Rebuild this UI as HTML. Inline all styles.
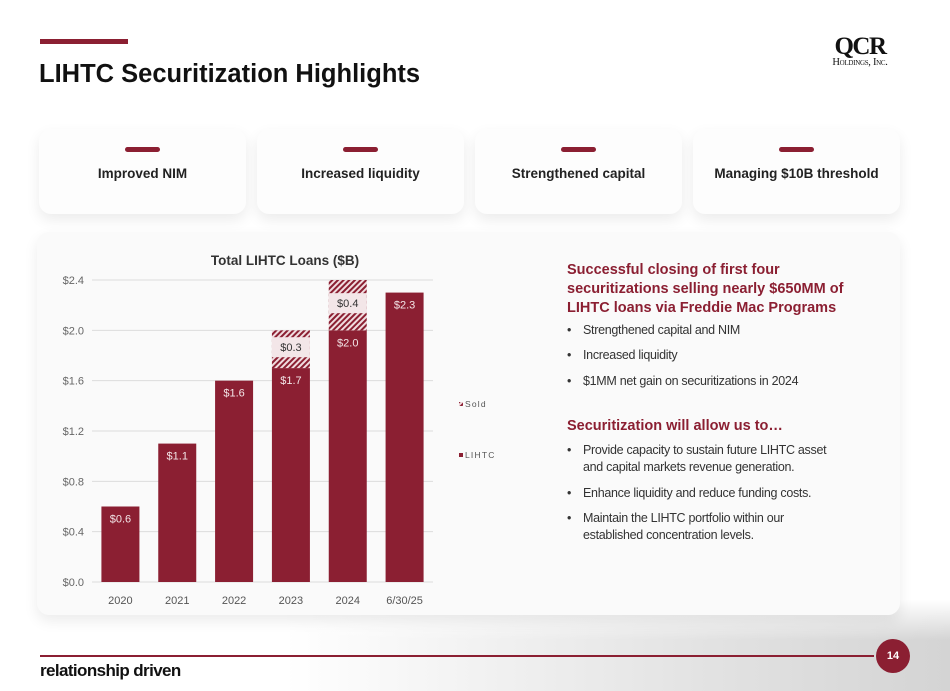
<!DOCTYPE html>
<html><head><meta charset="utf-8"><style>
body{margin:0;width:950px;height:691px;overflow:hidden;background:#fff;font-family:"Liberation Sans",Arial,sans-serif;position:relative}
.abs{position:absolute}
.card{position:absolute;top:129px;width:207px;height:85px;background:#fdfdfd;border-radius:12px;box-shadow:0 6px 14px rgba(0,0,0,0.08);text-align:center}
.card .dash{position:absolute;left:86px;top:18px;width:35px;height:5px;border-radius:3px;background:#8b1f32}
.card .t{position:absolute;left:0;right:0;top:37px;font-size:13.5px;font-weight:bold;color:#222}
.bul{position:absolute;left:567px;width:262px;padding-left:16px;font-size:12.5px;color:#333;line-height:17px;letter-spacing:-0.3px}
.bul:before{content:"•";position:absolute;left:0}
</style></head><body>
<div class="abs" style="left:0;top:600px;width:950px;height:91px;background:linear-gradient(90deg,rgba(255,255,255,0) 30%,#e2e2e2 75%,#d4d4d4)"></div>
<div class="abs" style="left:0;top:600px;width:950px;height:40px;background:linear-gradient(180deg,#fff,rgba(255,255,255,0))"></div>
<div class="abs" style="left:40px;top:39px;width:88px;height:5px;background:#8b1f32"></div>
<div class="abs" style="left:39px;top:60px;font-size:25.5px;font-weight:bold;color:#111">LIHTC Securitization Highlights</div>
<div class="abs" style="left:815px;top:37px;width:90px;text-align:center;font-family:'Liberation Serif',serif;color:#111">
<div style="font-size:25px;line-height:20px;letter-spacing:-1.5px;font-weight:bold">QCR</div><div style="font-size:10.5px;font-variant:small-caps;letter-spacing:-0.3px">Holdings, Inc.</div></div>

<div class="card" style="left:39px"><div class="dash"></div><div class="t">Improved NIM</div></div>
<div class="card" style="left:257px"><div class="dash"></div><div class="t">Increased liquidity</div></div>
<div class="card" style="left:475px"><div class="dash"></div><div class="t">Strengthened capital</div></div>
<div class="card" style="left:693px"><div class="dash"></div><div class="t">Managing $10B threshold</div></div>

<div class="abs" style="left:37px;top:232px;width:863px;height:383px;background:#fafafa;border-radius:12px;box-shadow:0 6px 14px rgba(0,0,0,0.08)"></div>

<svg class="abs" id="chart" style="left:0;top:0" width="950" height="691">
<defs><pattern id="hatch" patternUnits="userSpaceOnUse" width="4" height="4" patternTransform="rotate(45)"><rect width="4" height="4" fill="#f0dcdf"/><rect width="2" height="4" fill="#8b1f32"/></pattern></defs>
</svg>

<div class="abs" style="left:567px;top:261px;width:300px;font-size:14.5px;font-weight:bold;color:#8b1f32;line-height:19px">Successful closing of first four securitizations selling nearly $650MM of LIHTC loans via Freddie Mac Programs</div>
<div class="bul" style="top:322px">Strengthened capital and NIM</div>
<div class="bul" style="top:347px">Increased liquidity</div>
<div class="bul" style="top:373px">$1MM net gain on securitizations in 2024</div>
<div class="abs" style="left:567px;top:418px;font-size:14.5px;font-weight:bold;color:#8b1f32">Securitization will allow us to…</div>
<div class="bul" style="top:442px">Provide capacity to sustain future LIHTC asset and capital markets revenue generation.</div>
<div class="bul" style="top:485px">Enhance liquidity and reduce funding costs.</div>
<div class="bul" style="top:510px">Maintain the LIHTC portfolio within our established concentration levels.</div>

<div class="abs" style="left:40px;top:655px;width:834px;height:2px;background:#8b1f32"></div>
<div class="abs" style="left:876px;top:639px;width:34px;height:34px;border-radius:50%;background:#8b1f32;color:#fff;font-size:11px;font-weight:bold;text-align:center;line-height:34px">14</div>
<div class="abs" style="left:40px;top:661px;font-size:17px;color:#111;letter-spacing:-0.6px;font-weight:bold">relationship driven</div>

<script>
const categories=["2020","2021","2022","2023","2024","6/30/25"];
const lihtcValues=[0.6,1.1,1.6,1.7,2.0,2.3];
const soldValues=[0,0,0,0.3,0.4,0];
const yTicks=[0,0.4,0.8,1.2,1.6,2.0,2.4];
const NS="http://www.w3.org/2000/svg";
const svg=document.getElementById('chart');
const x0=92,x1=433,y0=582,yTop=280,yMax=2.4;
const step=(x1-x0)/categories.length, bw=38;
const y=v=>y0-(v/yMax)*(y0-yTop);
const xc=i=>x0+step*(i+0.5);
function mk(t,a){const e=document.createElementNS(NS,t);for(const k in a)e.setAttribute(k,a[k]);svg.appendChild(e);return e;}
let tt=mk('text',{x:285,y:265,'text-anchor':'middle','font-size':13.5,'font-weight':'bold',fill:'#333','font-family':'Liberation Sans'});tt.textContent='Total LIHTC Loans ($B)';


yTicks.forEach(v=>{
 const g=mk('line',{x1:x0,x2:x1,y1:y(v),y2:y(v),stroke:'#dcdcdc','stroke-width':1});
 
 
 const t=mk('text',{x:84,y:y(v)+4,'text-anchor':'end','font-size':11,fill:'#666','font-family':'Liberation Sans'});t.textContent='$'+v.toFixed(1);
 
 
});
categories.forEach((c,i)=>{
 const cx=xc(i);
 const b=mk('rect',{x:cx-bw/2,y:y(lihtcValues[i]),width:bw,height:y0-y(lihtcValues[i]),fill:'#8b1f32'});
 
 
 const l=mk('text',{x:cx,y:y(lihtcValues[i])+16,'text-anchor':'middle','font-size':11,fill:'#f3e6e8','font-family':'Liberation Sans'});l.textContent='$'+lihtcValues[i].toFixed(1);
 
 
 if(soldValues[i]>0){
  const top=lihtcValues[i]+soldValues[i];
  const s=mk('rect',{x:cx-bw/2,y:y(top),width:bw,height:y(lihtcValues[i])-y(top),fill:'url(#hatch)'});
  
  
  const mid=(y(top)+y(lihtcValues[i]))/2;
  const bg=mk('rect',{x:cx-bw/2,y:mid-12,width:bw,height:20,fill:'#f3e6e8'});
  
  
  const sl=mk('text',{x:cx,y:mid+2,'text-anchor':'middle','font-size':11,fill:'#333','font-family':'Liberation Sans'});sl.textContent='$'+soldValues[i].toFixed(1);
  
  
 }
 const xl=mk('text',{x:cx,y:604,'text-anchor':'middle','font-size':11,fill:'#555','font-family':'Liberation Sans'});xl.textContent=c;
 
 
});
const leg=[["Sold",407,'url(#hatch)'],["LIHTC",458,'#8b1f32']];
leg.forEach(([n,yy,f])=>{
 const r=mk('rect',{x:459,y:yy-5,width:4,height:4,fill:f});
 
 
 const t=mk('text',{x:465,y:yy,'font-size':8.5,'letter-spacing':1.2,fill:'#555','font-family':'Liberation Sans'});t.textContent=n;
 
 
});
</script>
</body></html>
